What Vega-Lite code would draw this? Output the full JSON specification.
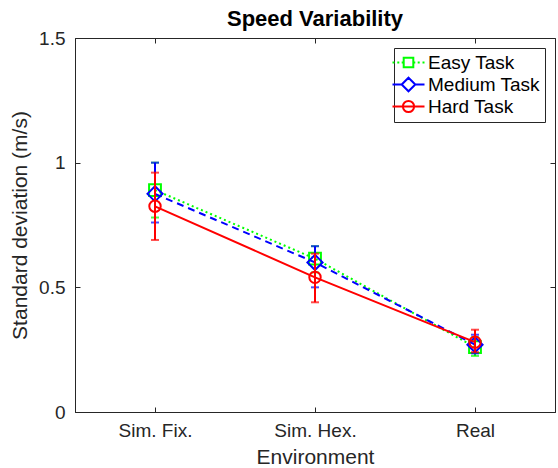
{
  "$schema": "https://vega.github.io/schema/vega-lite/v6.json",
  "autosize": "none",
  "width": 480,
  "height": 374,
  "padding": {"left": 75, "top": 38, "right": 3, "bottom": 56},
  "background": "white",
  "title": {"text": "Speed Variability", "fontSize": 22, "fontWeight": "bold", "color": "#000000", "anchor": "middle", "offset": -2, "font": "Liberation Sans"},
  "config": {
    "font": "Liberation Sans",
    "view": {"stroke": "#262626", "strokeWidth": 1},
    "axis": {
      "grid": false, "labelFontSize": 19, "labelColor": "#262626", "titleFontSize": 21,
      "titleFontWeight": "normal", "titleColor": "#262626", "domainColor": "#262626",
      "tickColor": "#262626", "tickSize": -5, "labelFont": "Liberation Sans", "titleFont": "Liberation Sans"
    },
    "legend": {
      "strokeColor": "#262626", "fillColor": "white",
      "padding": 5, "labelFontSize": 19, "labelColor": "#000000", "labelFont": "Liberation Sans",
      "symbolSize": 256, "symbolStrokeWidth": 2, "rowPadding": 0, "labelOffset": 10
    }
  },
  "data": {"values": [
    {"env": "Sim. Fix.", "task": "Easy Task", "mean": 0.89, "lo": 0.78, "hi": 1.0},
    {"env": "Sim. Hex.", "task": "Easy Task", "mean": 0.615, "lo": 0.56, "hi": 0.665},
    {"env": "Real", "task": "Easy Task", "mean": 0.26, "lo": 0.225, "hi": 0.3},
    {"env": "Sim. Fix.", "task": "Medium Task", "mean": 0.875, "lo": 0.76, "hi": 1.0},
    {"env": "Sim. Hex.", "task": "Medium Task", "mean": 0.6, "lo": 0.5, "hi": 0.665},
    {"env": "Real", "task": "Medium Task", "mean": 0.27, "lo": 0.235, "hi": 0.31},
    {"env": "Sim. Fix.", "task": "Hard Task", "mean": 0.825, "lo": 0.69, "hi": 0.96},
    {"env": "Sim. Hex.", "task": "Hard Task", "mean": 0.54, "lo": 0.44, "hi": 0.635},
    {"env": "Real", "task": "Hard Task", "mean": 0.28, "lo": 0.24, "hi": 0.33}
  ]},
  "resolve": {"axis": {"x": "independent", "y": "independent"}},
  "layer": [
    {
      "mark": {"type": "point", "filled": false, "fill": "transparent", "opacity": 0, "strokeWidth": 2},
      "encoding": {
        "x": {"field": "env", "type": "nominal", "sort": ["Sim. Fix.", "Sim. Hex.", "Real"], "scale": {"type": "point", "padding": 0.5}, "title": "Environment", "axis": {"labelAngle": 0, "labelPadding": 14, "titlePadding": 6}},
        "y": {"field": "mean", "type": "quantitative", "scale": {"domain": [0, 1.5], "nice": false}, "title": "Standard deviation (m/s)", "axis": {"values": [0, 0.5, 1, 1.5], "labelExpr": "'' + datum.value", "labelPadding": 15, "titlePadding": 8}},
        "stroke": {
          "field": "task", "type": "nominal",
          "scale": {"domain": ["Easy Task", "Medium Task", "Hard Task"], "range": ["#00ff00", "#0000ff", "#ff0000"]},
          "legend": {"title": null, "orient": "none", "legendX": 319, "legendY": 10, "symbolOpacity": 1, "symbolFillColor": "transparent"}
        },
        "shape": {
          "field": "task", "type": "nominal",
          "scale": {"domain": ["Easy Task", "Medium Task", "Hard Task"], "range": [
            "M-2,0H-1.75M-1.4,0H-1.15M-0.85,0H-0.65M0.65,0H0.85M1.15,0H1.4M1.75,0H2M-0.6,-0.6H0.6V0.6H-0.6ZM-0.6,-0.6V0.6H0.6V-0.6Z",
            "M-2,0H-0.85M0.85,0H2M-0.85,0L0,-0.85L0.85,0L0,0.85ZM-0.85,0L0,0.85L0.85,0L0,-0.85Z",
            "M-2,0H2M0.7,0A0.7,0.7 0 1,1 -0.7,0A0.7,0.7 0 1,1 0.7,0ZM0.7,0A0.7,0.7 0 1,0 -0.7,0A0.7,0.7 0 1,0 0.7,0Z"
          ]},
          "legend": {"title": null, "orient": "none", "legendX": 319, "legendY": 10, "symbolOpacity": 1, "symbolFillColor": "transparent"}
        }
      }
    },
    {
      "mark": {"type": "point", "filled": false, "opacity": 0},
      "encoding": {
        "x": {"field": "env", "type": "nominal", "sort": ["Sim. Fix.", "Sim. Hex.", "Real"], "axis": {"orient": "top", "labels": false, "title": null, "domain": false}},
        "y": {"field": "mean", "type": "quantitative", "axis": {"orient": "right", "labels": false, "title": null, "domain": false, "values": [0, 0.5, 1, 1.5]}}
      }
    },
    {
      "transform": [{"filter": "datum.task === 'Easy Task'"}],
      "encoding": {
        "x": {"field": "env", "type": "nominal", "sort": ["Sim. Fix.", "Sim. Hex.", "Real"], "axis": null},
        "color": {"field": "task", "type": "nominal", "scale": {"domain": ["Easy Task", "Medium Task", "Hard Task"], "range": ["#00ff00", "#0000ff", "#ff0000"]}, "legend": null}
      },
      "layer": [
        {"mark": {"type": "rule", "strokeWidth": 2}, "encoding": {"y": {"field": "lo", "type": "quantitative", "axis": null}, "y2": {"field": "hi"}}},
        {"mark": {"type": "tick", "size": 8, "thickness": 2, "orient": "horizontal"}, "encoding": {"y": {"field": "lo", "type": "quantitative", "axis": null}}},
        {"mark": {"type": "tick", "size": 8, "thickness": 2, "orient": "horizontal"}, "encoding": {"y": {"field": "hi", "type": "quantitative", "axis": null}}},
        {"mark": {"type": "line", "strokeWidth": 2, "strokeDash": [2, 3]}, "encoding": {"y": {"field": "mean", "type": "quantitative", "axis": null}}},
        {"mark": {"type": "point", "shape": "square", "filled": false, "size": 140, "strokeWidth": 2, "opacity": 1}, "encoding": {"y": {"field": "mean", "type": "quantitative", "axis": null}}}
      ]
    },
    {
      "transform": [{"filter": "datum.task === 'Medium Task'"}],
      "encoding": {
        "x": {"field": "env", "type": "nominal", "sort": ["Sim. Fix.", "Sim. Hex.", "Real"], "axis": null},
        "color": {"field": "task", "type": "nominal", "legend": null}
      },
      "layer": [
        {"mark": {"type": "rule", "strokeWidth": 2}, "encoding": {"y": {"field": "lo", "type": "quantitative", "axis": null}, "y2": {"field": "hi"}}},
        {"mark": {"type": "tick", "size": 8, "thickness": 2, "orient": "horizontal"}, "encoding": {"y": {"field": "lo", "type": "quantitative", "axis": null}}},
        {"mark": {"type": "tick", "size": 8, "thickness": 2, "orient": "horizontal"}, "encoding": {"y": {"field": "hi", "type": "quantitative", "axis": null}}},
        {"mark": {"type": "line", "strokeWidth": 2, "strokeDash": [7, 5]}, "encoding": {"y": {"field": "mean", "type": "quantitative", "axis": null}}},
        {"mark": {"type": "point", "shape": "diamond", "filled": false, "size": 230, "strokeWidth": 2, "opacity": 1}, "encoding": {"y": {"field": "mean", "type": "quantitative", "axis": null}}}
      ]
    },
    {
      "transform": [{"filter": "datum.task === 'Hard Task'"}],
      "encoding": {
        "x": {"field": "env", "type": "nominal", "sort": ["Sim. Fix.", "Sim. Hex.", "Real"], "axis": null},
        "color": {"field": "task", "type": "nominal", "legend": null}
      },
      "layer": [
        {"mark": {"type": "rule", "strokeWidth": 2}, "encoding": {"y": {"field": "lo", "type": "quantitative", "axis": null}, "y2": {"field": "hi"}}},
        {"mark": {"type": "tick", "size": 8, "thickness": 2, "orient": "horizontal"}, "encoding": {"y": {"field": "lo", "type": "quantitative", "axis": null}}},
        {"mark": {"type": "tick", "size": 8, "thickness": 2, "orient": "horizontal"}, "encoding": {"y": {"field": "hi", "type": "quantitative", "axis": null}}},
        {"mark": {"type": "line", "strokeWidth": 2}, "encoding": {"y": {"field": "mean", "type": "quantitative", "axis": null}}},
        {"mark": {"type": "point", "shape": "circle", "filled": false, "size": 130, "strokeWidth": 2, "opacity": 1}, "encoding": {"y": {"field": "mean", "type": "quantitative", "axis": null}}}
      ]
    }
  ]
}
